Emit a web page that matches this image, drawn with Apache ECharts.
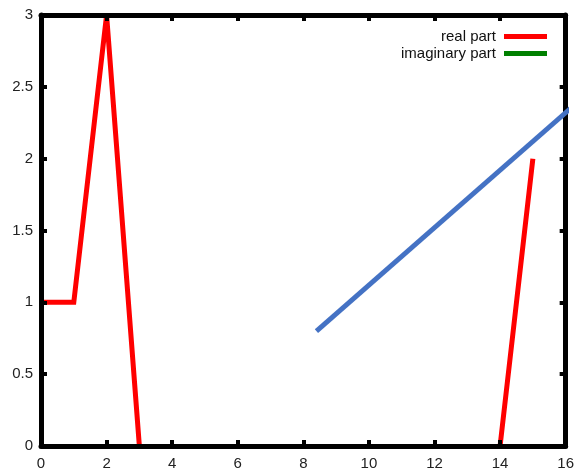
<!DOCTYPE html>
<html><head><meta charset="utf-8">
<script src="https://cdn.jsdelivr.net/npm/echarts@6/dist/echarts.min.js"></script>
<style>html,body{margin:0;padding:0;background:#fff}#c{width:577px;height:476px}</style>
</head><body><div id="c"></div>
<script>
const xValues = [0,1,2,3,4,5,6,7,8,9,10,11,12,13,14,15];
const realPart = [1,1,3,0,null,null,null,null,null,null,null,null,null,null,0,2];
const imagPart = [0,0,0,0,0,0,0,0,0,0,0,0,0,0,0,0];
const trendX = [8.4, 16.5];
const trendY = [0.8, 2.42];
const xTicks = [0,2,4,6,8,10,12,14,16];
const yTicks = [0,0.5,1,1.5,2,2.5,3];

const chart = echarts.init(document.getElementById('c'), null, {renderer:'canvas'});
const font = {fontFamily:'Liberation Sans, Arial, sans-serif', fontSize:15, color:'#222'};
const axisCommon = {
  axisLine:{show:true, onZero:false, lineStyle:{color:'#000', width:5}},
  axisTick:{show:true, inside:true, length:6, lineStyle:{color:'#000', width:4}},
  splitLine:{show:false}
};
chart.setOption({
  animation:false,
  grid:{left:41, right:10, top:15, bottom:30},
  legend:{
    orient:'vertical', right:25, top:24, align:'right',
    itemWidth:43, itemHeight:5, itemGap:2, icon:'rect',
    textStyle:Object.assign({}, font, {color:'#111', padding:[0,3,0,0]}),
    data:['real part','imaginary part']
  },
  xAxis:[
    Object.assign({type:'value', min:0, max:16, interval:2, position:'bottom', z:10,
      axisLabel:Object.assign({margin:10, formatter:v=>xTicks.includes(v)?String(v):''}, font)}, axisCommon),
    Object.assign({type:'value', min:0, max:16, interval:2, position:'top', z:10,
      axisLabel:{show:false}}, axisCommon)
  ],
  yAxis:[
    Object.assign({type:'value', min:0, max:3, interval:0.5, position:'left', z:10,
      axisLabel:Object.assign({margin:8, formatter:v=>yTicks.includes(v)?String(v):''}, font)}, axisCommon),
    Object.assign({type:'value', min:0, max:3, interval:0.5, position:'right', z:10,
      axisLabel:{show:false}}, axisCommon)
  ],
  series:[
    {name:'real part', type:'line', showSymbol:false, connectNulls:false,
     data:xValues.map((x,i)=>[x, realPart[i]]),
     lineStyle:{color:'#ff0000', width:5, join:'miter', cap:'butt'}, itemStyle:{color:'#ff0000'}},
    {name:'imaginary part', type:'line', showSymbol:false,
     data:xValues.map((x,i)=>[x, imagPart[i]]),
     lineStyle:{color:'#008000', width:4}, itemStyle:{color:'#008000'}},
    {name:'trend', type:'line', showSymbol:false, clip:false, z:20,
     data:trendX.map((x,i)=>[x, trendY[i]]),
     lineStyle:{color:'#4472c4', width:5}, itemStyle:{color:'#4472c4'}}
  ]
});
</script></body></html>
